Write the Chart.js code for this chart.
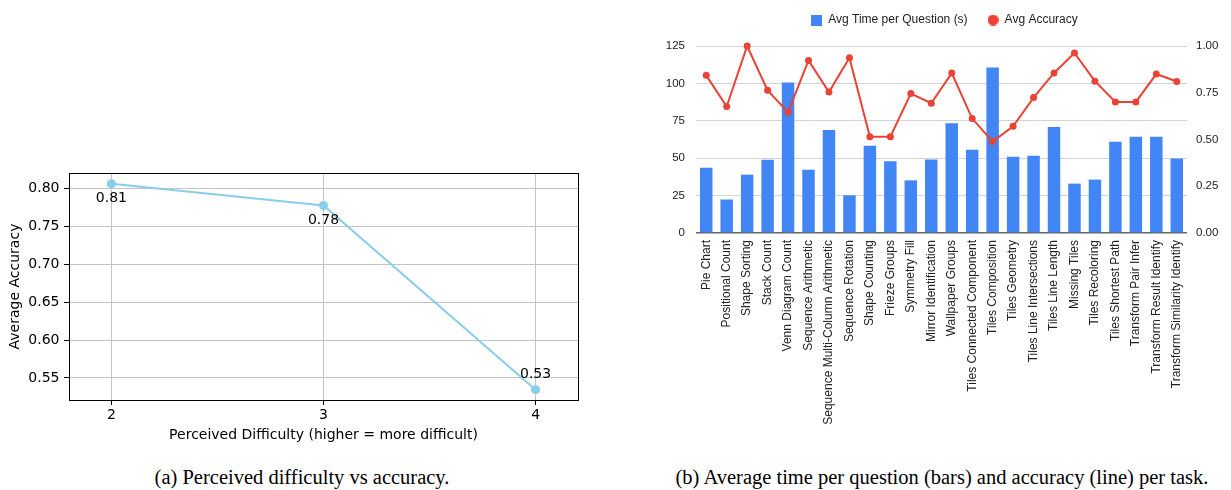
<!DOCTYPE html>
<html><head><meta charset="utf-8">
<script src="https://cdn.jsdelivr.net/npm/chart.js@4.4.1/dist/chart.umd.min.js"></script>
<style>
html,body{margin:0;padding:0;background:#fff;width:1231px;height:490px;overflow:hidden;position:relative}
#wa{position:absolute;left:0;top:150px;width:620px;height:300px}
#wb{position:absolute;left:640px;top:0;width:591px;height:445px}
.cap{position:absolute;top:465px;font-family:"Liberation Serif","Times New Roman",serif;font-size:20.5px;line-height:24px;color:#000;white-space:nowrap;transform:translateX(-50%)}
</style></head><body>
<div id="wa"><canvas id="ca"></canvas></div>
<div id="wb"><canvas id="cb"></canvas></div>
<div class="cap" style="left:302px">(a) Perceived difficulty vs accuracy.</div>
<div class="cap" style="left:942px">(b) Average time per question (bars) and accuracy (line) per task.</div>
<script>
// ---- (a) data ----
const difficultyLevels = [2, 3, 4];
const difficultyAccuracy = [0.8066, 0.7779, 0.5345];
const diffYTicks = [0.55, 0.60, 0.65, 0.70, 0.75, 0.80];

// ---- (b) data ----
const taskNames = ["Pie Chart","Positional Count","Shape Sorting","Stack Count","Venn Diagram Count","Sequence Arithmetic","Sequence Multi-Column Arithmetic","Sequence Rotation","Shape Counting","Frieze Groups","Symmetry Fill","Mirror Identification","Wallpaper Groups","Tiles Connected Component","Tiles Composition","Tiles Geometry","Tiles Line Intersections","Tiles Line Length","Missing Tiles","Tiles Recoloring","Tiles Shortest Path","Transform Pair Infer","Transform Result Identify","Transform Similarity Identify"];
const avgTime = [43.6, 22.4, 39.0, 49.0, 100.6, 42.3, 68.9, 25.2, 58.3, 47.9, 35.2, 49.1, 73.4, 55.6, 110.7, 51.0, 51.6, 70.9, 33.0, 35.7, 61.0, 64.3, 64.3, 49.8];
const avgAccuracy = [0.843, 0.676, 1.000, 0.763, 0.646, 0.923, 0.754, 0.937, 0.515, 0.515, 0.746, 0.694, 0.855, 0.612, 0.489, 0.571, 0.724, 0.856, 0.963, 0.812, 0.701, 0.701, 0.850, 0.810];
const timeTicks = [0, 25, 50, 75, 100, 125];
const accTicks = [0, 0.25, 0.5, 0.75, 1.0];

const MPL = 'DejaVu Sans';
const GS = '"Liberation Sans", Arial, sans-serif';
const BAR_COLOR = '#4285F4', LINE_COLOR = '#EA4335';

const framePlugin = {
  id: 'frame',
  afterDraw(chart) {
    const a = chart.chartArea, c = chart.ctx;
    c.save(); c.strokeStyle = '#000'; c.lineWidth = 1;
    c.strokeRect(Math.round(a.left) + 0.5, Math.round(a.top) + 0.5, Math.round(a.right - a.left), Math.round(a.bottom - a.top));
    c.restore();
  }
};
const valueLabels = {
  id: 'valueLabels',
  afterDatasetsDraw(chart) {
    const meta = chart.getDatasetMeta(0), c = chart.ctx;
    c.save(); c.font = '14px "' + MPL + '"'; c.fillStyle = '#000';
    c.textAlign = 'center'; c.textBaseline = 'middle';
    meta.data.forEach((pt, i) => {
      const v = difficultyAccuracy[i];
      const below = i < meta.data.length - 1;
      c.fillText(v.toFixed(2), pt.x, pt.y + (below ? 15 : -15));
    });
    c.restore();
  }
};

new Chart(document.getElementById('ca'), {
  type: 'line',
  data: { datasets: [{
    data: difficultyLevels.map((x, i) => ({ x, y: difficultyAccuracy[i] })),
    borderColor: '#87CEEB', backgroundColor: '#87CEEB', borderWidth: 2,
    pointRadius: 4.5, pointHoverRadius: 4.5, pointBorderWidth: 0, tension: 0, clip: false
  }]},
  options: {
    animation: false, responsive: true, maintainAspectRatio: false,
    layout: { padding: { top: 23, right: 42, left: 0, bottom: 0 } },
    plugins: { legend: { display: false }, tooltip: { enabled: false } },
    scales: {
      x: {
        type: 'linear', min: 1.8, max: 4.2,
        afterBuildTicks: s => { s.ticks = difficultyLevels.map(v => ({ value: v })); },
        afterFit: s => { s.height = 50; },
        grid: { color: '#c4c4c4', tickColor: '#000', tickLength: 5, drawTicks: true },
        border: { display: false },
        ticks: { font: { family: MPL, size: 14 }, color: '#000', padding: 2, maxRotation: 0, callback: v => String(v) },
        title: { display: true, text: 'Perceived Difficulty (higher = more difficult)', font: { family: MPL, size: 14 }, color: '#000', padding: { top: 0, bottom: 6.6 } }
      },
      y: {
        min: 0.5208, max: 0.8208,
        afterBuildTicks: s => { s.ticks = diffYTicks.map(v => ({ value: v })); },
        afterFit: s => { s.width = 69; },
        grid: { color: '#c4c4c4', tickColor: '#000', tickLength: 5, drawTicks: true },
        border: { display: false },
        ticks: { font: { family: MPL, size: 14 }, color: '#000', padding: 4.5, callback: v => Number(v).toFixed(2) },
        title: { display: true, text: 'Average Accuracy', font: { family: MPL, size: 14 }, color: '#000', padding: { top: 6.6, bottom: 0 } }
      }
    }
  },
  plugins: [framePlugin, valueLabels]
});

// legend icons (square for bars, dot for line)
function legendIcon(kind, color) {
  const cv = document.createElement('canvas');
  cv.width = 11; cv.height = 11;
  const g = cv.getContext('2d');
  g.fillStyle = color;
  if (kind === 'rect') g.fillRect(0, 0, 11, 11);
  else { g.beginPath(); g.arc(5.5, 5.5, 5.5, 0, Math.PI * 2); g.fill(); }
  return cv;
}
const legendIcons = [legendIcon('rect', BAR_COLOR), legendIcon('circle', LINE_COLOR)];

const legendTweak = {
  id: 'legendTweak',
  beforeInit(chart) {
    const lg = chart.legend;
    if (!lg) return;
    const orig = lg.fit;
    lg.fit = function () { orig.call(this); this.height = 52; };
  },
  afterLayout(chart) {
    const lg = chart.legend;
    if (!lg) return;
    lg.left += 9; lg.right += 9;
  }
};

new Chart(document.getElementById('cb'), {
  type: 'bar',
  data: {
    labels: taskNames,
    datasets: [
      { type: 'bar', label: 'Avg Time per Question (s)', data: avgTime, yAxisID: 'y',
        backgroundColor: BAR_COLOR, borderWidth: 0, barPercentage: 0.61, categoryPercentage: 1.0,
        order: 2 },
      { type: 'line', label: 'Avg Accuracy', data: avgAccuracy, yAxisID: 'y1',
        borderColor: LINE_COLOR, backgroundColor: LINE_COLOR, borderWidth: 2,
        pointRadius: 3.5, pointHoverRadius: 3.5, pointBorderWidth: 0, tension: 0,
        pointStyle: 'circle', order: 1, clip: false }
    ]
  },
  options: {
    animation: false, responsive: true, maintainAspectRatio: false,
    layout: { padding: { top: -6, left: 0, right: 0, bottom: 0 } },
    plugins: {
      tooltip: { enabled: false },
      legend: { position: 'top', align: 'center',
        labels: { usePointStyle: true, boxHeight: 11, boxWidth: 11, padding: 20,
          generateLabels: chart => {
            const items = Chart.defaults.plugins.legend.labels.generateLabels(chart);
            items.forEach(it => { it.pointStyle = legendIcons[it.datasetIndex]; });
            return items;
          },
          sort: (a, b) => a.datasetIndex - b.datasetIndex,
          font: { family: GS, size: 12 }, color: '#222' } }
    },
    scales: {
      x: {
        afterFit: s => { s.height = 212; },
        grid: { display: false, drawTicks: false },
        border: { display: false },
        ticks: { autoSkip: false, minRotation: 90, maxRotation: 90, padding: 7,
          font: { family: GS, size: 12 }, color: '#222' }
      },
      y: {
        position: 'left', min: 0, max: 125,
        afterBuildTicks: s => { s.ticks = timeTicks.map(v => ({ value: v })); },
        afterFit: s => { s.width = 56; },
        grid: { drawTicks: false, color: c => (c.tick && c.tick.value === 0) ? '#666' : '#d4d4d4', lineWidth: c => (c.tick && c.tick.value === 0) ? 1.5 : 1 },
        border: { display: false },
        ticks: { padding: 11, font: { family: GS, size: 11.5 }, color: '#222' }
      },
      y1: {
        position: 'right', min: 0, max: 1,
        afterBuildTicks: s => { s.ticks = accTicks.map(v => ({ value: v })); },
        afterFit: s => { s.width = 44; },
        grid: { drawOnChartArea: false, drawTicks: false },
        border: { display: false },
        ticks: { padding: 9, font: { family: GS, size: 11.5 }, color: '#222', callback: v => Number(v).toFixed(2) }
      }
    }
  },
  plugins: [legendTweak]
});
</script>
</body></html>
